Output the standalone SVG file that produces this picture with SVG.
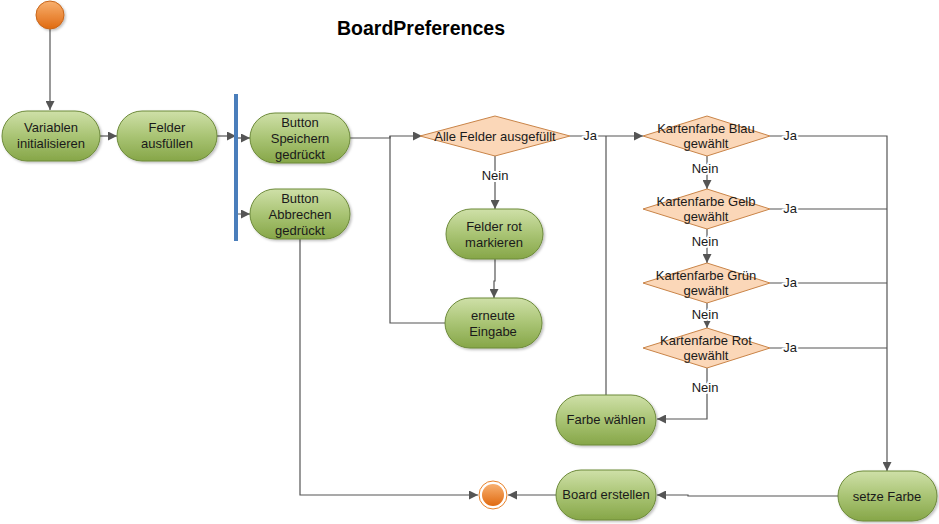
<svg xmlns="http://www.w3.org/2000/svg" width="939" height="524" viewBox="0 0 939 524">
<defs>
<linearGradient id="gGreen" x1="0" y1="0" x2="0" y2="1">
<stop offset="0" stop-color="#cfe0a8"/>
<stop offset="0.5" stop-color="#a9c474"/>
<stop offset="1" stop-color="#86a648"/>
</linearGradient>
<linearGradient id="gOrange" x1="0" y1="0" x2="0" y2="1">
<stop offset="0" stop-color="#f8b070"/>
<stop offset="1" stop-color="#e06a10"/>
</linearGradient>
<filter id="sh" x="-20%" y="-20%" width="140%" height="140%">
<feDropShadow dx="1.5" dy="1.5" stdDeviation="1.2" flood-color="#000" flood-opacity="0.25"/>
</filter>
<marker id="arr" viewBox="0 0 10 10" refX="10" refY="5" markerWidth="9" markerHeight="9" markerUnits="userSpaceOnUse" orient="auto">
<path d="M0,0 L10,5 L0,10 z" fill="#555"/>
</marker>
</defs>
<style>
.act{fill:url(#gGreen);stroke:#6d8a3a;stroke-width:1;filter:url(#sh)}
.dec{fill:#fbd7b8;stroke:#c98448;stroke-width:1}
.t{font-family:"Liberation Sans",Arial,sans-serif;font-size:13px;fill:#1a1a1a;text-anchor:middle}
.lbl{font-family:"Liberation Sans",Arial,sans-serif;font-size:13px;fill:#1a1a1a;text-anchor:middle;stroke:#fff;stroke-width:4px;paint-order:stroke;stroke-linejoin:round}
.c{fill:none;stroke:#555;stroke-width:1.2}
.title{font-family:"Liberation Sans",Arial,sans-serif;font-size:19.5px;font-weight:bold;fill:#000;text-anchor:middle}
</style>
<rect width="939" height="524" fill="#fff"/>
<text class="title" x="421" y="35">BoardPreferences</text>

<g id="connectors">
<path class="c" d="M50,29 V110" marker-end="url(#arr)"/>
<path class="c" d="M100,136 H117" marker-end="url(#arr)"/>
<path class="c" d="M217,136 H236" marker-end="url(#arr)"/>
<path class="c" d="M238,138 H250" marker-end="url(#arr)"/>
<path class="c" d="M236,168 V214 H250" marker-end="url(#arr)"/>
<path class="c" d="M350,138 H390 V136 H422" marker-end="url(#arr)"/>
<path class="c" d="M445,323 H390 V136"/>
<path class="c" d="M495,156 V209" marker-end="url(#arr)"/>
<path class="c" d="M495,259 V281 H494 V298" marker-end="url(#arr)"/>
<path class="c" d="M570,136 H643" marker-end="url(#arr)"/>
<path class="c" d="M606,136 V395"/>
<path class="c" d="M707,156 V189" marker-end="url(#arr)"/>
<path class="c" d="M707,229 V263" marker-end="url(#arr)"/>
<path class="c" d="M707,303 V328" marker-end="url(#arr)"/>
<path class="c" d="M707,368 V419 H657" marker-end="url(#arr)"/>
<path class="c" d="M770,136 H887 V471" marker-end="url(#arr)"/>
<path class="c" d="M770,209 H887"/>
<path class="c" d="M770,283 H887"/>
<path class="c" d="M770,348 H887"/>
<path class="c" d="M838,496 H688 V495 H657" marker-end="url(#arr)"/>
<path class="c" d="M556,495 H508" marker-end="url(#arr)"/>
<path class="c" d="M300,239 V495 H478" marker-end="url(#arr)"/>
<text class="lbl" x="495" y="180">Nein</text>
<text class="lbl" x="590" y="140">Ja</text>
<text class="lbl" x="790" y="140">Ja</text>
<text class="lbl" x="790" y="213">Ja</text>
<text class="lbl" x="790" y="287">Ja</text>
<text class="lbl" x="790" y="352">Ja</text>
<text class="lbl" x="705" y="173">Nein</text>
<text class="lbl" x="705" y="246">Nein</text>
<text class="lbl" x="705" y="319">Nein</text>
<text class="lbl" x="705" y="392">Nein</text>
</g>

<g id="start">
<circle cx="50" cy="15" r="14" fill="url(#gOrange)" stroke="#c8661a" stroke-width="1" filter="url(#sh)"/>
</g>

<g id="bar">
<rect x="234" y="94" width="4" height="147" fill="#4a7ebb"/>
</g>

<g id="variablen">
<rect class="act" x="2" y="111" width="98" height="50" rx="25" ry="25"/>
<text class="t" x="51" y="132">Variablen</text>
<text class="t" x="51" y="148">initialisieren</text>
</g>

<g id="felder">
<rect class="act" x="117" y="111" width="100" height="50" rx="25" ry="25"/>
<text class="t" x="167" y="132">Felder</text>
<text class="t" x="167" y="148">ausfüllen</text>
</g>

<g id="speichern">
<rect class="act" x="250" y="113" width="100" height="50" rx="25" ry="25"/>
<text class="t" x="300" y="127">Button</text>
<text class="t" x="300" y="143">Speichern</text>
<text class="t" x="300" y="159">gedrückt</text>
</g>

<g id="abbrechen">
<rect class="act" x="250" y="189" width="100" height="50" rx="25" ry="25"/>
<text class="t" x="300" y="203">Button</text>
<text class="t" x="300" y="219">Abbrechen</text>
<text class="t" x="300" y="235">gedrückt</text>
</g>

<g id="alleFelder">
<polygon class="dec" points="420,136 495,116 570,136 495,156"/>
<text class="t" x="495" y="141">Alle Felder ausgefüllt</text>
</g>

<g id="rotMarkieren">
<rect class="act" x="446" y="209" width="97" height="50" rx="25" ry="25"/>
<text class="t" x="494" y="231">Felder rot</text>
<text class="t" x="494" y="247">markieren</text>
</g>

<g id="erneut">
<rect class="act" x="445" y="298" width="97" height="50" rx="25" ry="25"/>
<text class="t" x="493" y="320">erneute</text>
<text class="t" x="493" y="336">Eingabe</text>
</g>

<g id="blau">
<polygon class="dec" points="643,136 707,116 770,136 707,156"/>
<text class="t" x="706" y="133">Kartenfarbe Blau</text>
<text class="t" x="706" y="148">gewählt</text>
</g>

<g id="gelb">
<polygon class="dec" points="643,209 707,189 770,209 707,229"/>
<text class="t" x="706" y="206">Kartenfarbe Gelb</text>
<text class="t" x="706" y="221">gewählt</text>
</g>

<g id="gruen">
<polygon class="dec" points="643,283 707,263 770,283 707,303"/>
<text class="t" x="706" y="280">Kartenfarbe Grün</text>
<text class="t" x="706" y="295">gewählt</text>
</g>

<g id="rot">
<polygon class="dec" points="643,348 707,328 770,348 707,368"/>
<text class="t" x="706" y="345">Kartenfarbe Rot</text>
<text class="t" x="706" y="360">gewählt</text>
</g>

<g id="farbeWaehlen">
<rect class="act" x="556" y="395" width="100" height="50" rx="25" ry="25"/>
<text class="t" x="606" y="424">Farbe wählen</text>
</g>

<g id="setzeFarbe">
<rect class="act" x="838" y="471" width="99" height="50" rx="25" ry="25"/>
<text class="t" x="887" y="501">setze Farbe</text>
</g>

<g id="boardErstellen">
<rect class="act" x="556" y="470" width="100" height="50" rx="25" ry="25"/>
<text class="t" x="606" y="499">Board erstellen</text>
</g>

<g id="end">
<circle cx="493" cy="495" r="14" fill="#fff" stroke="#e8822a" stroke-width="1"/>
<circle cx="493" cy="495" r="11" fill="url(#gOrange)"/>
</g>
</svg>
